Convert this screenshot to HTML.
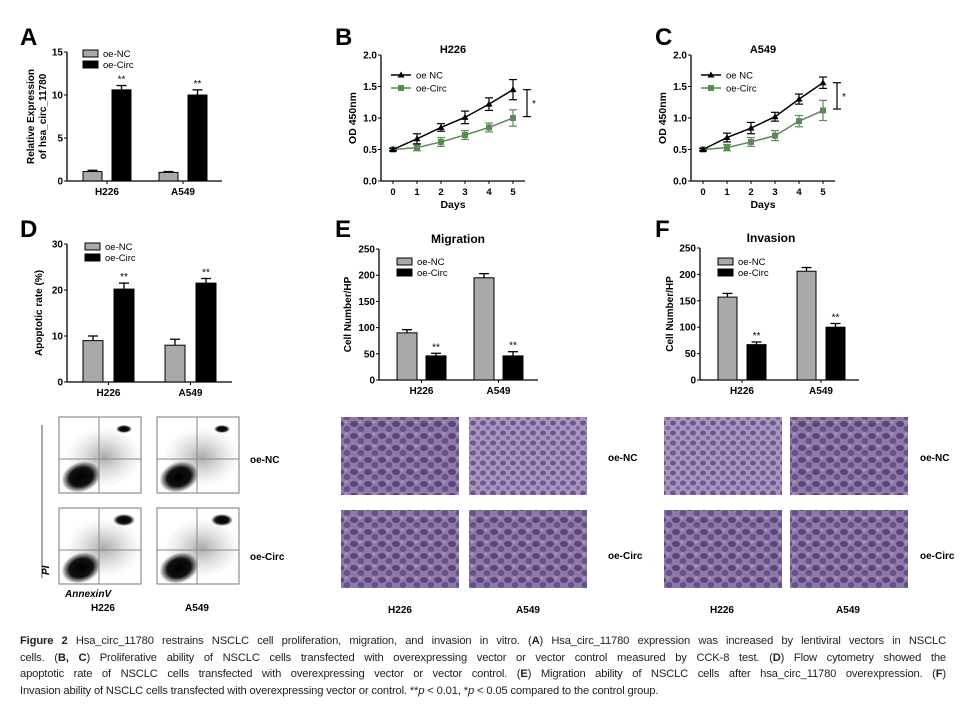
<!DOCTYPE html>
<html><head><meta charset="utf-8"><style>
html,body{margin:0;padding:0;background:#fff;width:967px;height:714px;overflow:hidden}
svg{position:absolute;left:0;top:0;font-family:"Liberation Sans",Arial,sans-serif}
#cap{position:absolute;left:20px;top:633px;width:926px;font-family:"Liberation Sans Narrow","Liberation Sans",sans-serif;font-size:11.2px;line-height:16.6px;color:#222;letter-spacing:-0.15px}
#cap div{text-align:justify;text-align-last:justify;white-space:nowrap}
#cap div.last{text-align-last:left}
</style></head><body>
<svg id="fig" width="967" height="714">
<defs>
<radialGradient id="blob"><stop offset="0" stop-color="#000"/><stop offset="0.6" stop-color="#111"/><stop offset="1" stop-color="#000" stop-opacity="0"/></radialGradient>
<radialGradient id="haze"><stop offset="0" stop-color="#555" stop-opacity="0.5"/><stop offset="1" stop-color="#999" stop-opacity="0"/></radialGradient>
<pattern id="cells" width="14" height="12" patternUnits="userSpaceOnUse">
<rect width="14" height="12" fill="#8d7aa8"/>
<ellipse cx="4" cy="4" rx="4" ry="3" fill="#5b4579"/>
<ellipse cx="11" cy="9" rx="3.5" ry="3" fill="#67518a"/>
<circle cx="10" cy="2" r="1.5" fill="#a996bf"/>
</pattern>
<pattern id="cells2" width="10" height="10" patternUnits="userSpaceOnUse">
<rect width="10" height="10" fill="#a896bd"/>
<ellipse cx="3" cy="3" rx="3" ry="2.5" fill="#6c5790"/>
<ellipse cx="8" cy="8" rx="2.5" ry="2" fill="#7c68a0"/>
</pattern>
</defs>
<g id="root"></g>
</svg>
<div id="cap">
<div><b>Figure 2</b> Hsa_circ_11780 restrains NSCLC cell proliferation, migration, and invasion in vitro. (<b>A</b>) Hsa_circ_11780 expression was increased by lentiviral vectors in NSCLC</div>
<div>cells. (<b>B, C</b>) Proliferative ability of NSCLC cells transfected with overexpressing vector or vector control measured by CCK-8 test. (<b>D</b>) Flow cytometry showed the</div>
<div>apoptotic rate of NSCLC cells transfected with overexpressing vector or vector control. (<b>E</b>) Migration ability of NSCLC cells after hsa_circ_11780 overexpression. (<b>F</b>)</div>
<div class="last">Invasion ability of NSCLC cells transfected with overexpressing vector or control. **<i>p</i> &lt; 0.01, *<i>p</i> &lt; 0.05 compared to the control group.</div>
</div>
<script>
// ---- data ----
const groups = ["H226", "A549"];
const seriesNames = ["oe-NC", "oe-Circ"];
const aNC = [1.1, 1.0];
const aCirc = [10.6, 10.0];
const aErrNC = [0.15, 0.1];
const aErrCirc = [0.5, 0.6];
const aTicks = [0, 5, 10, 15];
const dNC = [9.0, 8.0];
const dCirc = [20.2, 21.5];
const dErrNC = [1.0, 1.3];
const dErrCirc = [1.3, 1.0];
const dTicks = [0, 10, 20, 30];
const eNC = [90, 195];
const eCirc = [46, 46];
const eErrNC = [6, 8];
const eErrCirc = [5, 8];
const fNC = [157, 206];
const fCirc = [67, 100];
const fErrNC = [7, 7];
const fErrCirc = [5, 7];
const cellTicks = [0, 50, 100, 150, 200, 250];
const days = [0, 1, 2, 3, 4, 5];
const odTicks = [0.0, 0.5, 1.0, 1.5, 2.0];
const bNC = [0.50, 0.67, 0.85, 1.01, 1.22, 1.45];
const bCirc = [0.50, 0.53, 0.62, 0.73, 0.85, 1.00];
const bErrNC = [0.02, 0.08, 0.06, 0.10, 0.10, 0.16];
const bErrCirc = [0.02, 0.05, 0.07, 0.07, 0.07, 0.13];
const cNC = [0.50, 0.69, 0.84, 1.02, 1.30, 1.56];
const cCirc = [0.50, 0.53, 0.62, 0.72, 0.95, 1.12];
const cErrNC = [0.02, 0.07, 0.09, 0.07, 0.08, 0.09];
const cErrCirc = [0.02, 0.05, 0.07, 0.08, 0.09, 0.16];

const NS = "http://www.w3.org/2000/svg";
const root = document.getElementById("root");
function mk(tag, attrs, parent, txt) {
  const e = document.createElementNS(NS, tag);
  for (const k in attrs) e.setAttribute(k, attrs[k]);
  if (txt !== undefined) e.textContent = txt;
  (parent || root).appendChild(e);
  return e;
}
function label(x, y, t, size, name) {
  const e = mk("text", {x: x, y: y, "font-size": size || 26, "font-weight": "bold"}, root, t);
  
  
}
label(20, 45, "A", 24, "panel-label-a");
label(335, 45, "B", 24, "panel-label-b");
label(655, 45, "C", 24, "panel-label-c");
label(20, 237, "D", 24, "panel-label-d");
label(335, 237, "E", 24, "panel-label-e");
label(655, 237, "F", 24, "panel-label-f");

function barChart(o) {
  const g = mk("g", {});
  
  
  const yS = v => o.y0 - (v - o.min) / (o.max - o.min) * (o.y0 - o.y1);
  const ya = mk("line", {x1: o.x0, y1: o.y1, x2: o.x0, y2: o.y0, stroke: "#000", "stroke-width": 1.3}, g);
  
  
  const xa = mk("line", {x1: o.x0, y1: o.y0, x2: o.xEnd, y2: o.y0, stroke: "#000", "stroke-width": 1.3}, g);
  
  
  o.ticks.forEach(t => {
    const y = yS(t);
    mk("line", {x1: o.x0 - 3, y1: y, x2: o.x0, y2: y, stroke: "#000"}, g);
    const tl = mk("text", {x: o.x0 - 4, y: y + 3.5, "font-size": 10, "font-weight": "bold", "text-anchor": "end"}, g, t);
    
    
  });
  const yt = mk("text", {transform: `translate(${o.ytx},${(o.y0 + o.y1) / 2}) rotate(-90)`, "font-size": 10, "font-weight": "bold", "text-anchor": "middle"}, g);
  
  
  o.ytitle.forEach((l, i) => mk("tspan", {x: 0, dy: i === 0 ? (o.ytitle.length > 1 ? -6 : 0) : 12}, yt, l));
  const bw = o.bw;
  groups.forEach((gname, i) => {
    const gx = o.gx[i];
    [[o.nc, o.enc, "#a9a9a9", 0], [o.circ, o.ecirc, "#000", 1]].forEach(([vals, errs, col, s]) => {
      const x = gx + s * o.gap;
      const v = vals[i], e = errs[i];
      const b = mk("rect", {x: x, y: yS(v), width: bw, height: o.y0 - yS(v), fill: col, stroke: "#000", "stroke-width": 1}, g);
      
      
      const cx = x + bw / 2;
      mk("line", {x1: cx, y1: yS(v), x2: cx, y2: yS(v + e), stroke: "#000", "stroke-width": 1.3}, g);
      mk("line", {x1: cx - 5, y1: yS(v + e), x2: cx + 5, y2: yS(v + e), stroke: "#000", "stroke-width": 1.3}, g);
      if (s === 1) {
        const st = mk("text", {x: cx, y: yS(v + e) - 3, "font-size": 10, "text-anchor": "middle"}, g, "**");
        
        
      }
    });
    const cxg = gx + (o.gap + bw) / 2;
    mk("line", {x1: cxg, y1: o.y0, x2: cxg, y2: o.y0 + 3, stroke: "#000"}, g);
    const xl = mk("text", {x: cxg, y: o.y0 + 14, "font-size": 10, "font-weight": "bold", "text-anchor": "middle"}, g, gname);
    
    
  });
  seriesNames.forEach((n, s) => {
    const ly = o.ly + s * 11;
    const sw = mk("rect", {x: o.lx, y: ly - 4, width: 15, height: 7, fill: s ? "#000" : "#a9a9a9", stroke: "#000"}, g);
    
    
    const lt = mk("text", {x: o.lx + 20, y: ly + 3, "font-size": 9.5}, g, n);
    
    
  });
  if (o.title) {
    const tt = mk("text", {x: o.tx, y: o.ty, "font-size": 12, "font-weight": "bold", "text-anchor": "middle"}, g, o.title);
    
    
  }
}
barChart({name: "chart-a", x0: 67, xEnd: 222, y0: 181, y1: 52, min: 0, max: 15, ticks: aTicks, nc: aNC, circ: aCirc, enc: aErrNC, ecirc: aErrCirc, gx: [83, 159], gap: 29, bw: 19, lx: 83, ly: 54, ytx: 40, ytitle: ["Relative Expression", "of hsa_circ_11780"]});
barChart({name: "chart-d", x0: 67, xEnd: 232, y0: 382, y1: 244, min: 0, max: 30, ticks: dTicks, nc: dNC, circ: dCirc, enc: dErrNC, ecirc: dErrCirc, gx: [83, 165], gap: 31, bw: 20, lx: 85, ly: 247, ytx: 42, ytitle: ["Apoptotic rate (%)"]});
barChart({name: "chart-e", x0: 379, xEnd: 538, y0: 380, y1: 249, min: 0, max: 250, ticks: cellTicks, nc: eNC, circ: eCirc, enc: eErrNC, ecirc: eErrCirc, gx: [397, 474], gap: 29, bw: 20, lx: 397, ly: 262, ytx: 351, ytitle: ["Cell Number/HP"], title: "Migration", tx: 458, ty: 243});
barChart({name: "chart-f", x0: 700, xEnd: 859, y0: 380, y1: 248, min: 0, max: 250, ticks: cellTicks, nc: fNC, circ: fCirc, enc: fErrNC, ecirc: fErrCirc, gx: [718, 797], gap: 29, bw: 19, lx: 718, ly: 262, ytx: 673, ytitle: ["Cell Number/HP"], title: "Invasion", tx: 771, ty: 242});

function lineChart(o) {
  const g = mk("g", {});
  
  
  const xS = d => o.xd0 + d * o.step;
  const yS = v => o.y0 - v / 2 * (o.y0 - o.y1);
  const ya = mk("line", {x1: o.x0, y1: o.y1, x2: o.x0, y2: o.y0, stroke: "#000", "stroke-width": 1.3}, g);
  
  
  const xa = mk("line", {x1: o.x0, y1: o.y0, x2: xS(5) + 12, y2: o.y0, stroke: "#000", "stroke-width": 1.3}, g);
  
  
  odTicks.forEach(t => {
    const y = yS(t);
    mk("line", {x1: o.x0 - 3, y1: y, x2: o.x0, y2: y, stroke: "#000"}, g);
    const tl = mk("text", {x: o.x0 - 4, y: y + 3.5, "font-size": 10, "font-weight": "bold", "text-anchor": "end"}, g, t.toFixed(1));
    
    
  });
  days.forEach(d => {
    mk("line", {x1: xS(d), y1: o.y0, x2: xS(d), y2: o.y0 + 3, stroke: "#000"}, g);
    const tl = mk("text", {x: xS(d), y: o.y0 + 14, "font-size": 9.5, "font-weight": "bold", "text-anchor": "middle"}, g, d);
    
    
  });
  const xt = mk("text", {x: xS(2.5), y: o.y0 + 27, "font-size": 10.5, "font-weight": "bold", "text-anchor": "middle"}, g, "Days");
  
  
  const yt = mk("text", {transform: `translate(${o.x0 - 25},${(o.y0 + o.y1) / 2}) rotate(-90)`, "font-size": 10.5, "font-weight": "bold", "text-anchor": "middle"}, g, "OD 450nm");
  
  
  const tt = mk("text", {x: xS(2.5), y: o.y1 - 2, "font-size": 11, "font-weight": "bold", "text-anchor": "middle"}, g, o.title);
  
  
  [[o.circ, o.ecirc, "#5b8a56", "sq", "oe-Circ"], [o.nc, o.enc, "#000", "tri", "oe NC"]].forEach(([vals, errs, col, mark, nm]) => {
    const pts = vals.map((v, i) => xS(days[i]) + "," + yS(v)).join(" ");
    const pl = mk("polyline", {points: pts, fill: "none", stroke: col, "stroke-width": 1.5}, g);
    
    
    vals.forEach((v, i) => {
      const x = xS(days[i]), e = errs[i];
      mk("line", {x1: x, y1: yS(v - e), x2: x, y2: yS(v + e), stroke: col, "stroke-width": 1.2}, g);
      mk("line", {x1: x - 4, y1: yS(v - e), x2: x + 4, y2: yS(v - e), stroke: col, "stroke-width": 1.2}, g);
      mk("line", {x1: x - 4, y1: yS(v + e), x2: x + 4, y2: yS(v + e), stroke: col, "stroke-width": 1.2}, g);
      let m;
      if (mark === "sq") m = mk("rect", {x: x - 3, y: yS(v) - 3, width: 6, height: 6, fill: col}, g);
      else m = mk("polygon", {points: `${x},${yS(v) - 3.5} ${x - 3.5},${yS(v) + 2.5} ${x + 3.5},${yS(v) + 2.5}`, fill: col}, g);
      
      
    });
  });
  const bx = xS(5) + 14;
  const last = days.length - 1;
  const bt = yS(o.nc[last]), bb = yS(o.circ[last] + (o.nc[last] - o.circ[last]) * 0.05);
  mk("line", {x1: bx, y1: bt, x2: bx, y2: bb, stroke: "#000", "stroke-width": 1.2}, g);
  mk("line", {x1: bx - 4, y1: bt, x2: bx + 4, y2: bt, stroke: "#000", "stroke-width": 1.2}, g);
  mk("line", {x1: bx - 4, y1: bb, x2: bx + 4, y2: bb, stroke: "#000", "stroke-width": 1.2}, g);
  const st = mk("text", {x: bx + 5, y: (bt + bb) / 2 + 4, "font-size": 10}, g, "*");
  
  
  [["oe NC", "#000", "tri"], ["oe-Circ", "#5b8a56", "sq"]].forEach(([n, col, mk2], i) => {
    const ly = o.y1 + 20 + i * 13, lx = o.x0 + 10;
    mk("line", {x1: lx, y1: ly, x2: lx + 20, y2: ly, stroke: col, "stroke-width": 1.5}, g);
    if (mk2 === "sq") mk("rect", {x: lx + 7, y: ly - 3, width: 6, height: 6, fill: col}, g);
    else mk("polygon", {points: `${lx + 10},${ly - 3.5} ${lx + 6.5},${ly + 2.5} ${lx + 13.5},${ly + 2.5}`, fill: col}, g);
    const lt = mk("text", {x: lx + 25, y: ly + 3.5, "font-size": 9.5}, g, n);
    
    
  });
}
lineChart({name: "chart-b", title: "H226", x0: 381, y0: 181, y1: 55, xd0: 393, step: 24, nc: bNC, circ: bCirc, enc: bErrNC, ecirc: bErrCirc});
lineChart({name: "chart-c", title: "A549", x0: 691, y0: 181, y1: 55, xd0: 703, step: 24, nc: cNC, circ: cCirc, enc: cErrNC, ecirc: cErrCirc});

const flowPos = [[59, 417, 0], [157, 417, 0], [59, 508, 1], [157, 508, 1]];
flowPos.forEach(([x, y, r], i) => {
  const g = mk("g", {});
  
  
  mk("rect", {x: x, y: y, width: 82, height: 76, fill: "#fff", stroke: "#777"}, g);
  mk("ellipse", {cx: x + 45, cy: y + 40, rx: 38, ry: 30, fill: "url(#haze)"}, g);
  mk("ellipse", {cx: x + 22, cy: y + 60, rx: 20, ry: 15, fill: "url(#blob)", transform: `rotate(-20 ${x + 22} ${y + 60})`}, g);
  mk("ellipse", {cx: x + 65, cy: y + 12, rx: r ? 11 : 8, ry: r ? 6 : 4, fill: "url(#blob)"}, g);
  mk("line", {x1: x + 40, y1: y, x2: x + 40, y2: y + 76, stroke: "#888"}, g);
  mk("line", {x1: x, y1: y + 42, x2: x + 82, y2: y + 42, stroke: "#888"}, g);
});
mk("line", {x1: 42, y1: 425, x2: 42, y2: 578, stroke: "#555"});
const tx = (x, y, t, s, n, extra) => {
  const e = mk("text", Object.assign({x: x, y: y, "font-size": s, "font-weight": "bold"}, extra || {}), root, t);
  
  
};
tx(37, 577, "PI", 10, "flow-y-label", {"font-style": "italic", transform: "rotate(-90 42 570)"});
tx(65, 597, "AnnexinV", 10, "flow-x-label", {"font-style": "italic"});
tx(250, 463, "oe-NC", 10, "row-label-oe-nc");
tx(250, 560, "oe-Circ", 10, "row-label-oe-circ");
tx(103, 611, "H226", 10, "col-label-h226", {"text-anchor": "middle"});
tx(197, 611, "A549", 10, "col-label-a549", {"text-anchor": "middle"});

[[341, 417, "cells"], [469, 417, "cells2"], [341, 510, "cells"], [469, 510, "cells"],
 [664, 417, "cells2"], [790, 417, "cells"], [664, 510, "cells"], [790, 510, "cells"]].forEach(([x, y, p], i) => {
  const r = mk("rect", {x: x, y: y, width: 118, height: 78, fill: `url(#${p})`}, root);
  
  
});
tx(608, 461, "oe-NC", 10, "row-label-e-oe-nc");
tx(608, 559, "oe-Circ", 10, "row-label-e-oe-circ");
tx(920, 461, "oe-NC", 10, "row-label-f-oe-nc");
tx(920, 559, "oe-Circ", 10, "row-label-f-oe-circ");
tx(400, 613, "H226", 10, "col-label-e-h226", {"text-anchor": "middle"});
tx(528, 613, "A549", 10, "col-label-e-a549", {"text-anchor": "middle"});
tx(722, 613, "H226", 10, "col-label-f-h226", {"text-anchor": "middle"});
tx(848, 613, "A549", 10, "col-label-f-a549", {"text-anchor": "middle"});
</script>
</body></html>
